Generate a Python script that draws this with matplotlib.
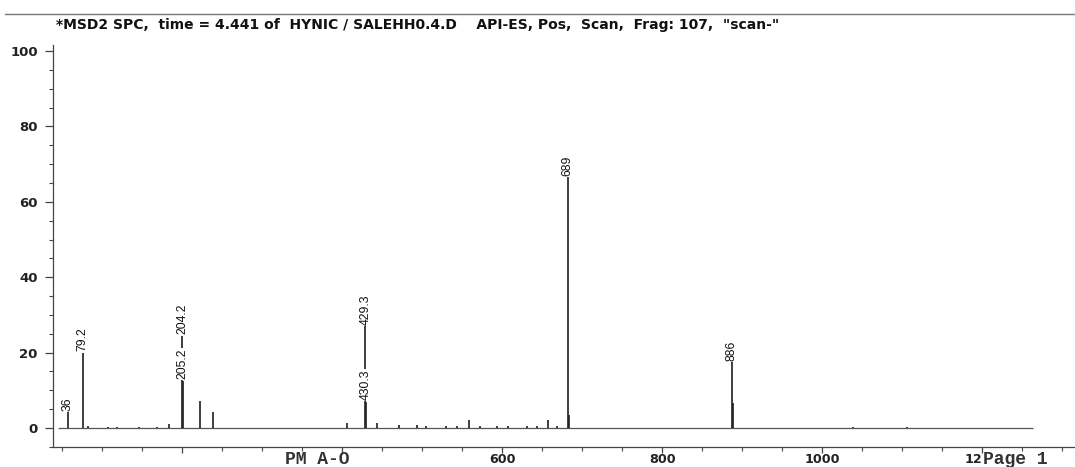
import matplotlib
matplotlib.use("Agg")
from matplotlib import pyplot as plt
from matplotlib.lines import Line2D
from matplotlib.ticker import MultipleLocator, FixedLocator

# labelled peaks (m/z position, abundance %, printed label)
label_mz = [57, 76, 200, 201, 429, 430, 682, 887]
label_int = [4.2, 20.0, 24.5, 12.5, 27.0, 7.0, 66.5, 17.5]
label_txt = ["36", "79.2", "204.2", "205.2", "429.3", "430.3", "689", "886"]

# small unlabelled peaks
minor_mz = [82, 107, 119, 146, 169, 184, 222, 239, 406, 444, 471, 494, 505,
            530, 544, 559, 572, 594, 607, 631, 644, 657, 669, 684, 888, 1039, 1106]
minor_int = [0.4, 0.2, 0.2, 0.3, 0.2, 1.0, 7.2, 4.2, 1.2, 1.3, 0.8, 0.7, 0.4,
             0.4, 0.4, 2.1, 0.6, 0.5, 0.5, 0.4, 0.5, 2.1, 0.5, 3.4, 6.6, 0.3, 0.3]

scan_range = [45, 1264]
x_ticks = [600, 800, 1000, 1200]
x_ticklabels = ["600", "800", "1000", "12"]
title = ('*MSD2 SPC,  time = 4.441 of  HYNIC / SALEHH0.4.D    '
         'API-ES, Pos,  Scan,  Frag: 107,  "scan-"')

W, H = 1075, 467
fig = plt.figure(figsize=(W / 100, H / 100), dpi=100)
ax = fig.add_axes([53 / W, 20 / H, 1022 / W, 402 / H])

ink = "#1e1e1e"
ax.hlines(0, scan_range[0], scan_range[1], color="#555555", lw=0.9)
ax.vlines(minor_mz, 0, minor_int, color=ink, lw=1.2)
ax.vlines(label_mz, 0, label_int, color=ink, lw=1.2)
for x, y, s in zip(label_mz, label_int, label_txt):
    ax.annotate(s, (x, y), xytext=(0, 1), textcoords="offset points",
                rotation=90, ha="center", va="bottom", fontsize=8.8,
                family="Liberation Sans", color="#111111",
                bbox=dict(boxstyle="square,pad=0.05", fc="white", ec="none"))

ax.set_xlim(38.75, 1316)
ax.set_ylim(-5.04, 101.6)

ax.spines["top"].set_visible(False)
ax.spines["right"].set_visible(False)
for sp in ("left", "bottom"):
    ax.spines[sp].set_color("#444444")
    ax.spines[sp].set_linewidth(0.9)

ax.yaxis.set_minor_locator(MultipleLocator(5))
ax.set_yticks([0, 20, 40, 60, 80, 100])
ax.xaxis.set_major_locator(FixedLocator([200, 400] + x_ticks))
ax.set_xticklabels(["", ""] + x_ticklabels)
ax.xaxis.set_minor_locator(MultipleLocator(50))
ax.tick_params(which="major", length=6, width=0.9, color="#444444")
ax.tick_params(which="minor", length=3, width=0.8, color="#444444")
ax.tick_params(axis="x", which="major", length=4)
ax.tick_params(axis="y", labelsize=9.5, pad=5)
ax.tick_params(axis="x", labelsize=9.2, pad=0)
for lab in ax.get_xticklabels() + ax.get_yticklabels():
    lab.set_fontweight("bold")
    lab.set_family("DejaVu Sans")
    lab.set_color("#222222")
# the "00" of 1200 is overprinted by the page stamp
ax.get_xticklabels()[-1].set_horizontalalignment("right")

# header line and title
fig.add_artist(Line2D([5 / W, 1.0], [1 - 14 / H, 1 - 14 / H], color="#777777", lw=1.0))
fig.text(56 / W, 1 - 25 / H, title, fontsize=10, fontweight="bold",
         family="DejaVu Sans", va="center", ha="left", color="#111111")

# printer footer stamps
fig.text(285 / W, 1 - 459 / H, "PM A-O", fontsize=13, family="Liberation Mono",
         fontweight="bold", va="center", ha="left", color="#333333")
fig.text(983 / W, 1 - 459 / H, "Page 1", fontsize=13, family="Liberation Mono",
         fontweight="bold", va="center", ha="left", color="#333333")

fig.savefig("out.png", dpi=100, facecolor="white")
